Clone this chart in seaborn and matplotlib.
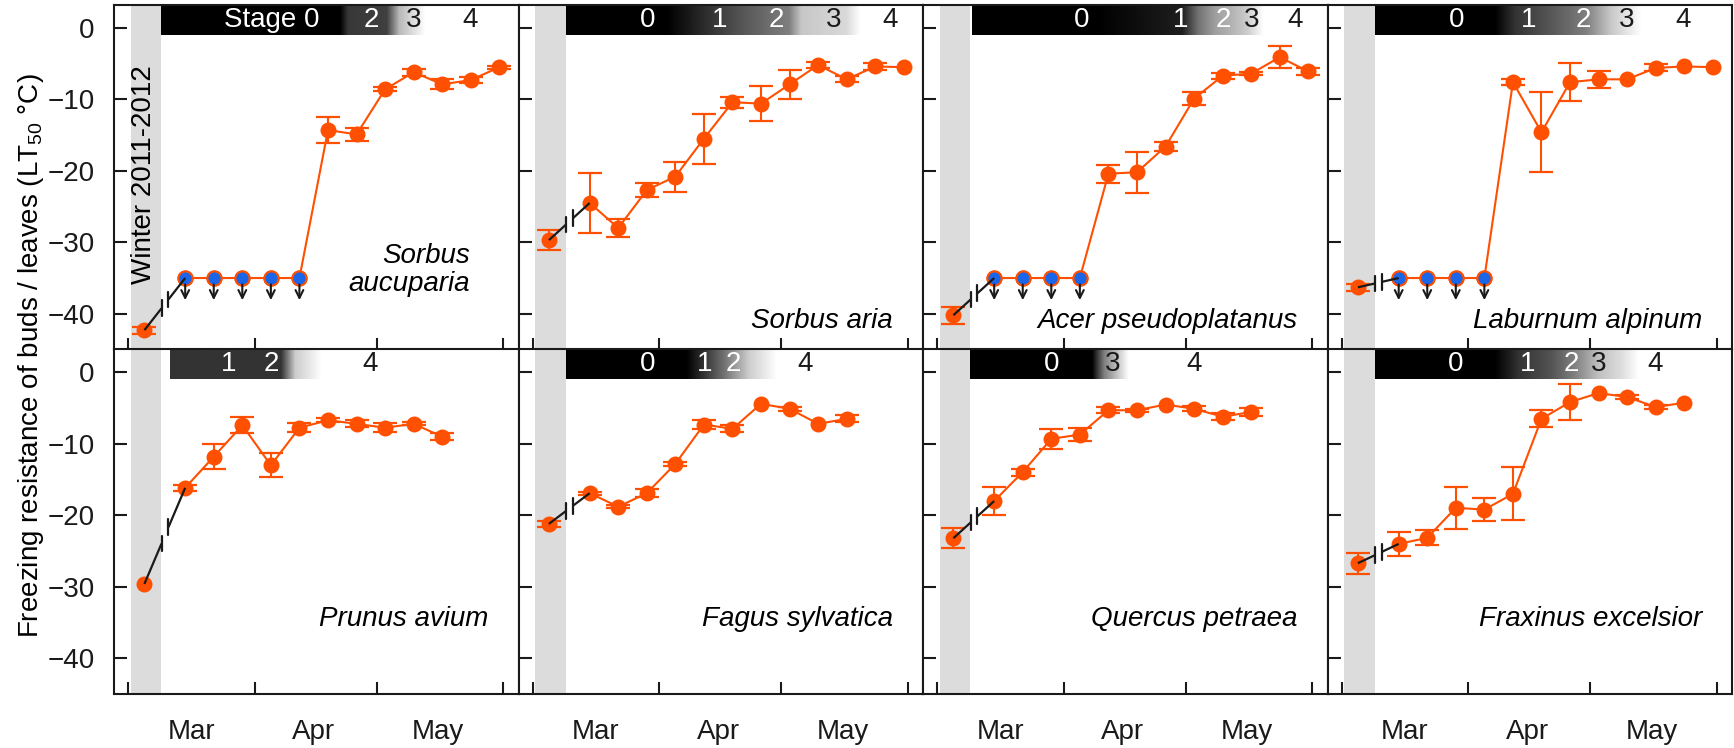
import numpy as np
import matplotlib
matplotlib.use("Agg")
import matplotlib.pyplot as plt
import seaborn as sns

sns.set_theme(style="ticks")
plt.rcParams['font.family'] = ['Liberation Sans', 'DejaVu Sans']
plt.rcParams['mathtext.fontset'] = 'custom'
plt.rcParams['mathtext.rm'] = 'Liberation Sans'
plt.rcParams['mathtext.default'] = 'regular'
plt.rcParams['text.color'] = 'black'
plt.rcParams['xtick.color'] = 'black'
plt.rcParams['ytick.color'] = 'black'
plt.rcParams['axes.labelcolor'] = 'black'

ORANGE = '#FF4F00'
BLUE = '#1B66E8'
BAND = '#DCDCDC'

# x in days after 1 March 2012
winter_day = 4
sample_days = [14, 21, 28, 35, 42, 49, 56, 63, 70, 77, 84, 91]
month_edges = [0, 31, 61, 92]
month_mid = [15.5, 45.5, 76]
month_names = ['Mar', 'Apr', 'May']

species = ['Sorbus\naucuparia', 'Sorbus aria', 'Acer pseudoplatanus', 'Laburnum alpinum',
           'Prunus avium', 'Fagus sylvatica', 'Quercus petraea', 'Fraxinus excelsior']

winter_lt50 = [-42.3, -29.7, -40.2, -36.3, -29.6, -21.2, -23.2, -26.7]
winter_err = [0.5, 1.4, 1.2, 0.5, 0.0, 0.4, 1.4, 1.45]

# number of leading samples below the measuring limit (-35 °C, blue)
n_below_limit = [5, 0, 4, 4, 0, 0, 0, 0]

lt50_sorbus_aucuparia = [-35, -35, -35, -35, -35, -14.3, -14.9, -8.6, -6.2, -7.9, -7.3, -5.5]
err_sorbus_aucuparia = [0, 0, 0, 0, 0, 1.85, 0.95, 0.3, 0.5, 0.7, 0.4, 0.2]
lt50_sorbus_aria = [-24.5, -28.0, -22.7, -20.8, -15.5, -10.4, -10.6, -7.9, -5.2, -7.2, -5.4, -5.5]
err_sorbus_aria = [4.2, 1.2, 1.0, 2.1, 3.5, 0.75, 2.4, 2.0, 0.4, 0.4, 0.5, 0]
lt50_acer = [-35, -35, -35, -35, -20.4, -20.2, -16.6, -9.9, -6.7, -6.4, -4.1, -6.1]
err_acer = [0, 0, 0, 0, 1.25, 2.9, 0.6, 0.9, 0.45, 0.2, 1.5, 0.5]
lt50_laburnum = [-35, -35, -35, -35, -7.6, -14.6, -7.6, -7.2, -7.2, -5.6, -5.4, -5.5]
err_laburnum = [0, 0, 0, 0, 0.45, 5.6, 2.7, 1.2, 0, 0.5, 0, 0]
lt50_prunus = [-16.15, -11.8, -7.4, -13.0, -7.75, -6.7, -7.2, -7.75, -7.2, -9.0]
err_prunus = [0.4, 1.75, 1.15, 1.7, 0.6, 0.3, 0.5, 0.65, 0.2, 0.5]
lt50_fagus = [-16.9, -18.8, -16.9, -12.8, -7.3, -7.9, -4.4, -5.1, -7.2, -6.5]
err_fagus = [0.2, 0.2, 0.6, 0.3, 0.6, 0.5, 0, 0.3, 0, 0.5]
lt50_quercus = [-18.0, -13.95, -9.3, -8.7, -5.3, -5.3, -4.5, -5.1, -6.2, -5.55]
err_quercus = [1.9, 0.5, 1.4, 0.9, 0.4, 0.2, 0, 0.35, 0.5, 0.5]
lt50_fraxinus = [-24.0, -23.15, -18.95, -19.2, -17.0, -6.5, -4.15, -2.9, -3.45, -4.85, -4.25]
err_fraxinus = [1.7, 1.05, 2.9, 1.6, 3.7, 1.2, 2.5, 0, 0.3, 0.3, 0]

# phenological stage bar: (day, grey level 0=black..1=white) and labels (text, day)
stage_grey = [
    [(8.1, 0), (52, 0), (54, 0.22), (63.5, 0.25), (66.5, 0.72), (73, 1)],
    [(8.3, 0), (33, 0), (42, 0.17), (51, 0.33), (63, 0.5), (66, 0.78), (77, 0.85), (80.5, 1)],
    [(8.5, 0), (39, 0), (60, 0.12), (64, 0.45), (68, 0.62), (72, 0.7), (76, 0.8), (80, 1)],
    [(8.2, 0), (37.6, 0), (42.5, 0.2), (54.8, 0.4), (60, 0.5), (66, 0.78), (73.6, 1)],
    [(10.3, 0.2), (37.5, 0.2), (41, 0.8), (47.5, 1)],
    [(8.3, 0), (37.7, 0), (42, 0.2), (47, 0.45), (53, 0.8), (59.8, 1)],
    [(8.1, 0), (38, 0), (41, 0.5), (44, 0.75), (47, 1)],
    [(8.2, 0), (37.6, 0), (43.4, 0.2), (51.5, 0.33), (57, 0.5), (63, 0.75), (68.7, 0.87), (72.8, 1)],
]
stage_labels = [
    [('Stage 0', 35.2, 'w'), ('2', 59.7, 'w'), ('3', 69.9, 'k'), ('4', 83.8, 'k')],
    [('0', 28.3, 'w'), ('1', 45.9, 'w'), ('2', 59.8, 'w'), ('3', 73.7, 'k'), ('4', 87.6, 'k')],
    [('0', 35.5, 'w'), ('1', 59.6, 'w'), ('2', 70.2, 'w'), ('3', 77.2, 'k'), ('4', 87.8, 'k')],
    [('0', 28.2, 'w'), ('1', 45.8, 'w'), ('2', 59.3, 'w'), ('3', 69.9, 'k'), ('4', 83.8, 'k')],
    [('1', 24.7, 'w'), ('2', 35.2, 'w'), ('4', 59.3, 'k')],
    [('0', 28.1, 'w'), ('1', 42.2, 'w'), ('2', 49.1, 'w'), ('4', 66.7, 'k')],
    [('0', 28.2, 'w'), ('3', 43.1, 'k'), ('4', 62.9, 'k')],
    [('0', 28.0, 'w'), ('1', 45.6, 'w'), ('2', 56.3, 'w'), ('3', 63.0, 'k'), ('4', 76.9, 'k')],
]

series = [(lt50_sorbus_aucuparia, err_sorbus_aucuparia), (lt50_sorbus_aria, err_sorbus_aria),
          (lt50_acer, err_acer), (lt50_laburnum, err_laburnum),
          (lt50_prunus, err_prunus), (lt50_fagus, err_fagus),
          (lt50_quercus, err_quercus), (lt50_fraxinus, err_fraxinus)]

YLIM = (-45, 3.2)
XLIM = (-3.45, 95.7)
BAR_BOTTOM = -0.95
MS = 11.5

fig, axes = plt.subplots(2, 4, figsize=(17.34, 7.48), sharex=True, sharey=True,
                         gridspec_kw=dict(wspace=0, hspace=0))
fig.subplots_adjust(left=114/1734, right=1732/1734, top=1-5/748, bottom=54/748)


def draw_break(ax, x0, y0, x1, y1):
    xa, xb = 8.2, 9.9
    ya = y0 + (y1 - y0) * (xa - x0) / (x1 - x0)
    yb = y0 + (y1 - y0) * (xb - x0) / (x1 - x0)
    ax.plot([x0, xa], [y0, ya], color='k', lw=1.6, zorder=6, solid_capstyle='butt')
    ax.plot([xb, x1], [yb, y1], color='k', lw=1.6, zorder=6, solid_capstyle='butt')
    for xx, yy in ((xa, ya), (xb, yb)):
        ax.plot([xx, xx], [yy - 1.1, yy + 1.1], color='k', lw=1.6, zorder=6)


for i, ax in enumerate(axes.flat):
    vals, errs = series[i]
    days = np.array(sample_days[:len(vals)])
    vals = np.array(vals)
    errs = np.array(errs)

    # winter band
    ax.axvspan(0.7, 8.1, color=BAND, lw=0, zorder=0)

    # stage bar
    stops = np.array(stage_grey[i])
    grid = np.linspace(stops[0, 0], stops[-1, 0], 400)
    grey = np.interp(grid, stops[:, 0], stops[:, 1])
    ax.imshow(grey[np.newaxis, :], cmap='gray', vmin=0, vmax=1, aspect='auto',
              extent=(stops[0, 0], stops[-1, 0], BAR_BOTTOM, YLIM[1]), zorder=1)
    for txt, d, c in stage_labels[i]:
        ax.text(d, (BAR_BOTTOM + YLIM[1]) / 2, txt, color=c, fontsize=20,
                ha='center', va='center', zorder=2)

    # spring series
    sns.lineplot(x=days, y=vals, ax=ax, color=ORANGE, lw=1.5, marker='o',
                 markersize=MS, markeredgewidth=0, zorder=3)
    m = errs > 0
    ax.errorbar(days[m], vals[m], yerr=errs[m], fmt='none', ecolor=ORANGE,
                elinewidth=1.5, capsize=8.5, capthick=1.6, zorder=3)

    # below measuring limit
    nb = n_below_limit[i]
    if nb:
        sns.scatterplot(x=days[:nb], y=vals[:nb], ax=ax, color=BLUE, edgecolor=ORANGE,
                        linewidth=1.5, s=105, zorder=5)
        for d, v in zip(days[:nb], vals[:nb]):
            ax.annotate('', xy=(d, v - 3.1), xytext=(d, v - 0.9),
                        arrowprops=dict(arrowstyle='->', color='k', lw=1.5,
                                        mutation_scale=14, shrinkA=0, shrinkB=0),
                        zorder=5)

    # winter value
    ax.plot(winter_day, winter_lt50[i], 'o', color=ORANGE, markersize=MS,
            markeredgewidth=0, zorder=4)
    if winter_err[i] > 0:
        ax.errorbar([winter_day], [winter_lt50[i]], yerr=[winter_err[i]], fmt='none',
                    ecolor=ORANGE, elinewidth=1.5, capsize=8.5, capthick=1.6, zorder=4)
    draw_break(ax, winter_day, winter_lt50[i], days[0], vals[0])

    # species name
    if i == 0:
        ax.text(0.88, 0.23, species[i], transform=ax.transAxes, fontsize=20,
                style='italic', ha='right', va='center', multialignment='right',
                linespacing=1.1)
    else:
        ax.text(0.926, 0.084 if i < 4 else 0.218, species[i], transform=ax.transAxes,
                fontsize=20, style='italic', ha='right', va='center')

    ax.set_xlim(*XLIM)
    ax.set_ylim(*YLIM)
    ax.set_xticks(month_edges)
    ax.set_xticklabels([])
    ax.set_yticks([0, -10, -20, -30, -40])
    ax.tick_params(axis='both', which='major', direction='in', length=9, width=1.5,
                   color='k', labelcolor='k', labelsize=20, pad=14)
    ax.set_xlabel('')
    ax.set_ylabel('')
    for sp in ax.spines.values():
        sp.set_visible(True)
        sp.set_color('k')
        sp.set_linewidth(1.5)
    ax.set_facecolor('white')

for ax in axes[1]:
    ax.set_xticks(month_mid, minor=True)
    ax.set_xticklabels(month_names, minor=True)
    ax.tick_params(axis='x', which='minor', length=0, labelsize=20, pad=18, labelcolor='k')

axes[0, 0].text(winter_day, -20.5, 'Winter 2011-2012', rotation=90, fontsize=20,
                ha='center', va='center', zorder=2)

fig.text(31/1734, 1 - 356/748, 'Freezing resistance of buds / leaves (LT$_{50}$ °C)',
         rotation=90, fontsize=20, ha='center', va='center')

fig.savefig('out.png', dpi=100)
